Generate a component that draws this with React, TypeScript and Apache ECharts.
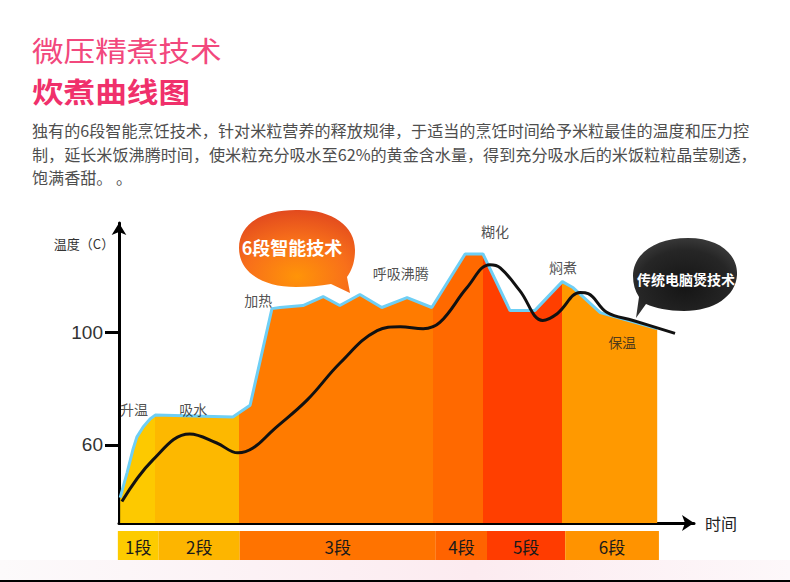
import React, { useEffect, useRef } from 'react';
import * as echarts from 'echarts';

// ---------- text ----------
const titleLine1 = '微压精煮技术';
const titleLine2 = '炊煮曲线图';
const introLines = [
  '独有的6段智能烹饪技术，针对米粒营养的释放规律，于适当的烹饪时间给予米粒最佳的温度和压力控',
  '制，延长米饭沸腾时间，使米粒充分吸水至62%的黄金含水量，得到充分吸水后的米饭粒粒晶莹剔透，',
  '饱满香甜。 。',
];
const yAxisName = '温度（C）';
const xAxisName = '时间';
const bubbleSixStage = '6段智能技术';
const bubbleTraditional = '传统电脑煲技术';

// ---------- axes ----------
const timeMin = 0;
const timeMax = 100;
const tempMin = 32.3;
const tempMax = 138.8;
const tempTicks = [60, 100];

// ---------- stages ----------
const stageNames = ['1段', '2段', '3段', '4段', '5段', '6段'];
const stageEdges = [0, 6.3, 20.9, 54.6, 63.3, 77.1, 93.6];
const bandEdges = [-0.2, 6.9, 21.0, 55.1, 64.0, 77.6, 93.9];
const stageFill = ['#FDC900', '#FDB800', '#FF7B00', '#FF6900', '#FF3F00', '#FF9900'];
const bandFill = ['#FDCB00', '#FDB500', '#FF7300', '#FF6300', '#FF3C00', '#FF9300'];

// ---------- 6段智能技术 envelope (blue outline) ----------
const envelopeTime = [0.2, 1.4, 2.4, 3.1, 4.2, 5.4, 6.3, 19.8, 22.8, 26.6, 28.0, 32.0, 35.5, 38.4, 41.9, 45.7, 50.1, 54.4, 60.2, 63.3, 68.0, 72.3, 77.1, 79.0, 83.7, 93.6];
const envelopeTemp = [41.3, 50.1, 58.2, 62.8, 66.4, 69.2, 70.6, 69.9, 74.1, 108.4, 108.8, 109.5, 112.7, 109.5, 113.4, 108.8, 112.3, 108.8, 127.8, 127.8, 107.7, 107.7, 118.0, 115.8, 107.0, 101.3];

// ---------- 传统电脑煲 curve (black) ----------
const curveTime = [0.5, 5.9, 12.3, 17.0, 20.7, 23.3, 26.8, 32.7, 38.4, 44.9, 48.9, 52.9, 55.8, 60.5, 64.5, 66.3, 69.7, 73.7, 76.2, 80.2, 81.6, 84.9, 89.4, 96.7];
const curveTemp = [39.9, 54.7, 63.9, 60.7, 57.2, 58.9, 65.3, 75.9, 89.0, 100.6, 102.0, 101.3, 103.5, 115.8, 124.0, 122.9, 114.8, 104.2, 106.6, 114.1, 113.7, 107.0, 104.2, 99.6];

// ---------- phase notes ----------
const noteNames = ['升温', '吸水', '加热', '呼吸沸腾', '糊化', '焖煮', '保温'];
const noteTime = [2.6, 12.9, 24.2, 49.0, 65.4, 77.2, 87.5];
const noteTemp = [72.7, 72.7, 111.6, 121.1, 136.0, 123.3, 96.7];

const FONT = '"Noto Sans CJK SC", "Noto Sans", sans-serif';

const orangeBubblePath =
  'M296 210 C331 209 355 225 355 250 C355 262 352 270 347 277 L350 293 L331 284 C320 286 308 287 296 287 C262 287 239 272 239 248 C239 224 262 210 296 210 Z';
const darkBubblePath =
  'M688 238 C720 238 738 255 737 275 C736 296 714 311 684 311 C668 311 655 308 646 304 L636 318 L639 297 C635 291 633 284 633 276 C633 254 655 238 688 238 Z';

echarts.graphic.registerShape('orangeBubble', echarts.graphic.extendPath(orangeBubblePath, {}) as any);
echarts.graphic.registerShape('darkBubble', echarts.graphic.extendPath(darkBubblePath, {}) as any);

export default function App() {
  const ref = useRef<HTMLDivElement>(null);

  useEffect(() => {
    if (!ref.current) return;
    const chart = echarts.init(ref.current, undefined, { renderer: 'svg' });

    const envelope = envelopeTime.map((t, i) => [t, envelopeTemp[i]]);
    const curve = curveTime.map((t, i) => [t, curveTemp[i]]);

    const option: any = {
      animation: false,
      backgroundColor: '#ffffff',
      grid: { left: 119, right: 96, top: 223, bottom: 59, containLabel: false },
      xAxis: {
        type: 'value',
        min: timeMin,
        max: timeMax,
        name: xAxisName,
        nameLocation: 'end',
        nameGap: 11,
        nameTextStyle: { fontSize: 16, color: '#222', fontFamily: FONT },
        axisLine: {
          show: true,
          symbol: ['none', 'arrow'],
          symbolSize: [12, 12],
          lineStyle: { color: '#000', width: 3 },
        },
        axisTick: { show: false },
        axisLabel: { show: false },
        splitLine: { show: false },
      },
      yAxis: {
        type: 'value',
        min: tempMin,
        max: tempMax,
        axisLine: {
          show: true,
          symbol: ['none', 'arrow'],
          symbolSize: [11, 12],
          lineStyle: { color: '#000', width: 3 },
        },
        axisTick: {
          show: true,
          customValues: tempTicks,
          length: 14,
          lineStyle: { color: '#000', width: 3 },
        },
        axisLabel: {
          show: true,
          customValues: tempTicks,
          margin: 16,
          fontSize: 19,
          color: '#333',
          fontFamily: '"Liberation Sans Narrow", "Liberation Sans", sans-serif',
        },
        splitLine: { show: false },
      },
      visualMap: {
        type: 'piecewise',
        show: false,
        dimension: 0,
        seriesIndex: 0,
        pieces: stageFill.map((c, i) =>
          i === stageFill.length - 1
            ? { gte: stageEdges[i], lte: stageEdges[i + 1], color: c }
            : { gte: stageEdges[i], lt: stageEdges[i + 1], color: c }
        ),
        outOfRange: { color: stageFill[stageFill.length - 1] },
      },
      series: [
        {
          name: '6段智能技术区域',
          type: 'line',
          data: envelope,
          symbol: 'none',
          lineStyle: { width: 0 },
          areaStyle: { opacity: 1, origin: 'start' },
          z: 1,
          silent: true,
        },
        {
          name: '6段智能技术',
          type: 'line',
          data: envelope,
          symbol: 'none',
          lineStyle: { color: '#6ECFF5', width: 3 },
          z: 2,
          silent: true,
        },
        {
          name: '传统电脑煲技术',
          type: 'line',
          data: curve,
          symbol: 'none',
          smooth: 0.4,
          lineStyle: { color: '#111', width: 3 },
          z: 3,
          silent: true,
        },
        {
          name: '阶段',
          type: 'scatter',
          data: noteNames.map((n, i) => ({ name: n, value: [noteTime[i], noteTemp[i]] })),
          symbolSize: 1,
          itemStyle: { color: 'rgba(0,0,0,0)' },
          label: {
            show: true,
            position: 'inside',
            formatter: '{b}',
            fontSize: 14,
            color: '#222',
            fontFamily: FONT,
          },
          z: 4,
          silent: true,
        },
        {
          name: '段',
          type: 'custom',
          clip: false,
          silent: true,
          encode: { x: [0, 1] },
          data: stageNames.map((_, i) => [bandEdges[i], bandEdges[i + 1], i]),
          renderItem: (_params: any, api: any) => {
            const idx = api.value(2);
            const a = api.coord([api.value(0), tempMin]);
            const b = api.coord([api.value(1), tempMin]);
            const top = a[1] + 8;
            return {
              type: 'group',
              children: [
                {
                  type: 'rect',
                  shape: { x: a[0], y: top, width: b[0] - a[0], height: 29 },
                  style: { fill: bandFill[idx] },
                },
                {
                  type: 'text',
                  x: (a[0] + b[0]) / 2,
                  y: top + 15,
                  style: {
                    text: stageNames[idx],
                    align: 'center',
                    verticalAlign: 'middle',
                    fontSize: 17,
                    fill: '#1a1a1a',
                    fontFamily: FONT,
                  },
                },
              ],
            };
          },
          z: 5,
        },
      ],
      graphic: [
        {
          type: 'rect',
          z: -1,
          shape: { x: 0, y: 560, width: 790, height: 20 },
          style: {
            fill: {
              type: 'linear', x: 0, y: 0, x2: 1, y2: 0,
              colorStops: [
                { offset: 0, color: '#FCFAFB' },
                { offset: 0.6, color: '#FCEBF0' },
                { offset: 1, color: '#FDF8FA' },
              ],
            },
          },
        },
        { type: 'rect', z: 10, shape: { x: 0, y: 580, width: 790, height: 2 }, style: { fill: '#000' } },
        {
          type: 'text', x: 32, y: 50, scaleX: 1.13,
          style: { text: titleLine1, fontSize: 28, lineHeight: 28, fill: '#F2487D', fontFamily: FONT, verticalAlign: 'middle' },
        },
        {
          type: 'text', x: 32, y: 91, scaleX: 1.13,
          style: { text: titleLine2, fontSize: 28, lineHeight: 28, fontWeight: 'bold', fill: '#F0306B', fontFamily: FONT, verticalAlign: 'middle' },
        },
        ...introLines.map((line, i) => ({
          type: 'text', x: 32, y: 130 + i * 23.5,
          style: { text: line, fontSize: 16.1, lineHeight: 18, fill: '#4E4E4E', fontFamily: FONT, verticalAlign: 'middle' },
        })),
        {
          type: 'text', x: 84, y: 243,
          style: { text: yAxisName, fontSize: 13, fill: '#333', fontFamily: FONT, align: 'center', verticalAlign: 'middle' },
        },
        {
          type: 'orangeBubble', x: 0, y: 0, z: 20,
          style: {
            fill: {
              type: 'radial', x: 0.5, y: 0.8, r: 0.8,
              colorStops: [
                { offset: 0, color: '#FF9408' },
                { offset: 0.55, color: '#F8701A' },
                { offset: 1, color: '#E24A1E' },
              ],
            },
          },
        },
        {
          type: 'text', x: 292, y: 247, z: 21,
          style: { text: bubbleSixStage, fontSize: 18, fontWeight: 'bold', fill: '#fff', fontFamily: FONT, align: 'center', verticalAlign: 'middle' },
        },
        {
          type: 'darkBubble', x: 0, y: 0, z: 20,
          style: {
            fill: {
              type: 'radial', x: 0.5, y: 0.6, r: 0.75,
              colorStops: [
                { offset: 0, color: '#151515' },
                { offset: 0.6, color: '#262626' },
                { offset: 1, color: '#4A4A4A' },
              ],
            },
          },
        },
        {
          type: 'text', x: 686, y: 279, z: 21,
          style: { text: bubbleTraditional, fontSize: 14, fontWeight: 'bold', fill: '#fff', fontFamily: FONT, align: 'center', verticalAlign: 'middle' },
        },
      ],
    };

    chart.setOption(option);
    return () => chart.dispose();
  }, []);

  return (
    <div
      ref={ref}
      style={{ position: 'absolute', left: 0, top: 0, width: 790, height: 582 }}
    />
  );
}
